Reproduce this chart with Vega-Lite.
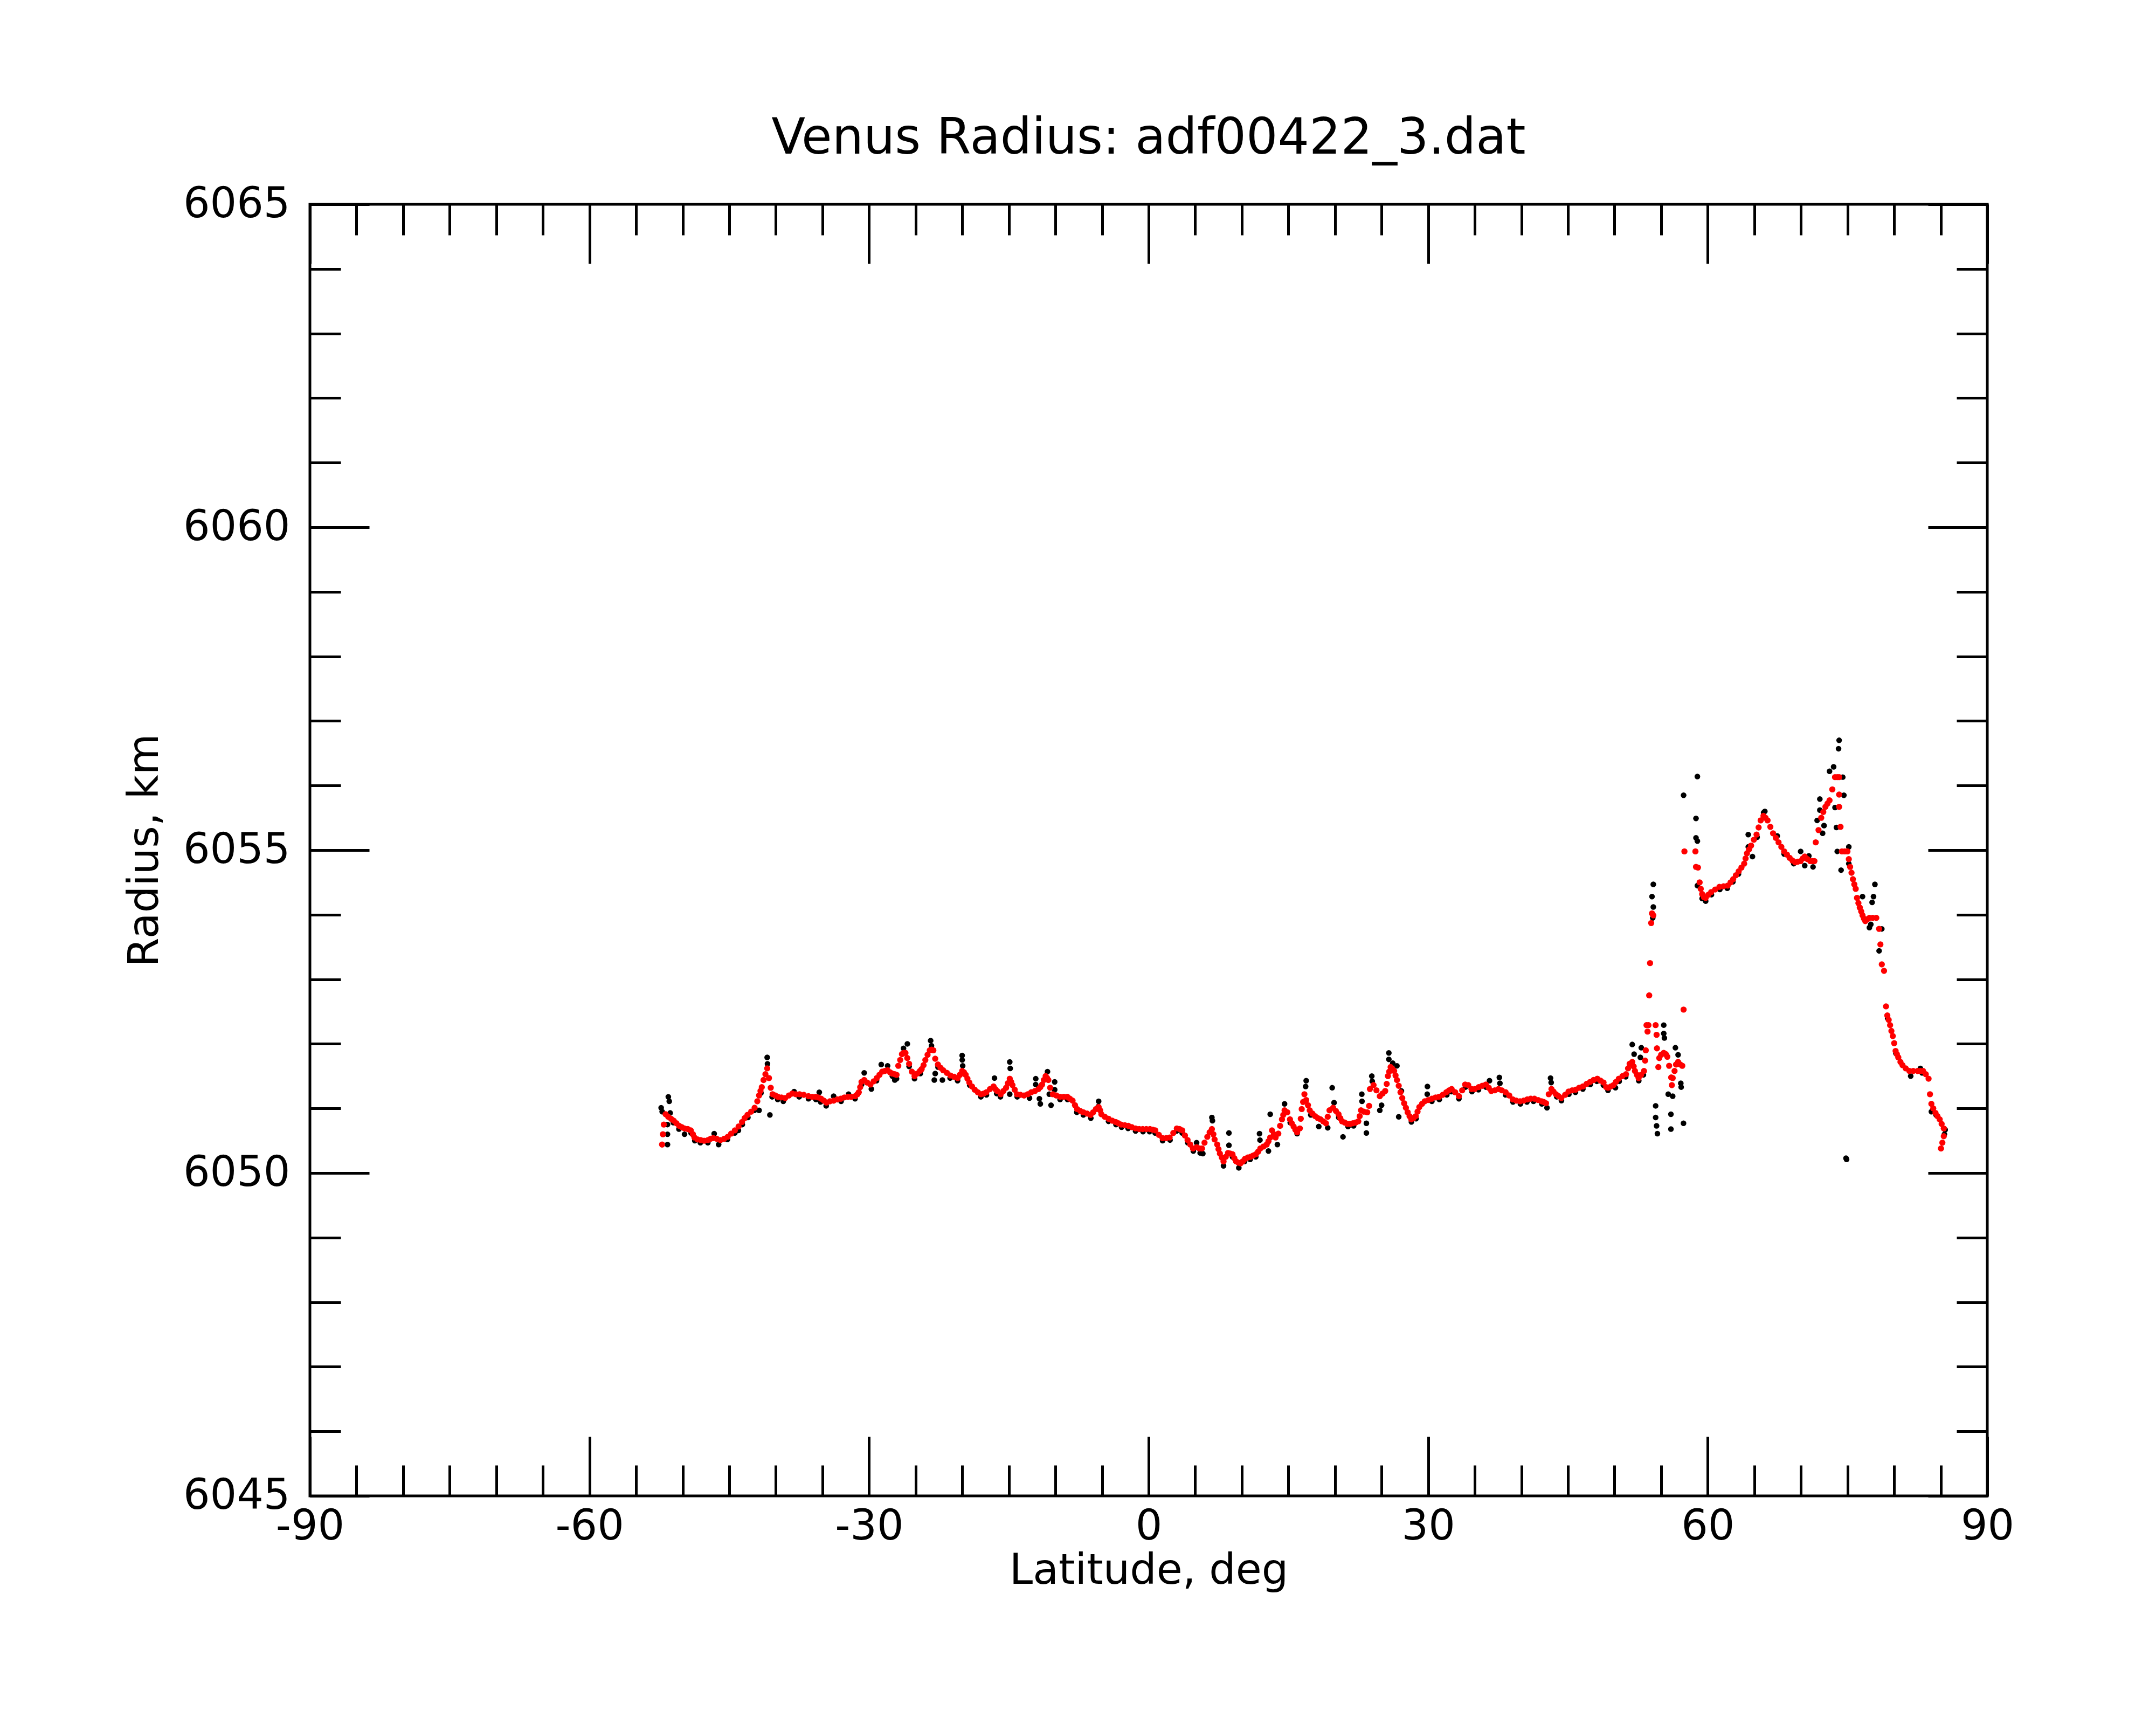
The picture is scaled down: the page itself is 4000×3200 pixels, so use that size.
{
  "$schema": "https://vega.github.io/schema/vega-lite/v6.json",
  "width": 3112,
  "height": 2396,
  "autosize": "none",
  "padding": {"left": 575, "top": 379, "right": 313, "bottom": 425},
  "background": "white",
  "title": {
    "text": "Venus Radius: adf00422_3.dat",
    "font": "DejaVu Sans",
    "fontSize": 92,
    "fontWeight": "normal",
    "color": "black",
    "anchor": "middle",
    "baseline": "alphabetic",
    "offset": 97,
    "dy": 134
  },
  "datasets": {
    "fit": [
      {"lat":-52.21,"radius":6050.44},{"lat":-52.12,"radius":6050.60},{"lat":-52.02,"radius":6050.75},{"lat":-51.83,"radius":6050.91},
      {"lat":-51.55,"radius":6050.87},{"lat":-51.25,"radius":6050.84},{"lat":-50.96,"radius":6050.81},{"lat":-50.67,"radius":6050.77},
      {"lat":-50.38,"radius":6050.73},{"lat":-50.09,"radius":6050.71},{"lat":-49.80,"radius":6050.69},{"lat":-49.45,"radius":6050.68},
      {"lat":-49.13,"radius":6050.66},{"lat":-48.90,"radius":6050.60},{"lat":-48.74,"radius":6050.55},{"lat":-48.40,"radius":6050.52},
      {"lat":-48.07,"radius":6050.51},{"lat":-47.70,"radius":6050.50},{"lat":-47.29,"radius":6050.51},{"lat":-47.00,"radius":6050.53},
      {"lat":-46.72,"radius":6050.54},{"lat":-46.35,"radius":6050.53},{"lat":-45.95,"radius":6050.51},{"lat":-45.55,"radius":6050.53},
      {"lat":-45.17,"radius":6050.56},{"lat":-44.80,"radius":6050.61},{"lat":-44.40,"radius":6050.66},{"lat":-44.00,"radius":6050.72},
      {"lat":-43.63,"radius":6050.79},{"lat":-43.35,"radius":6050.85},{"lat":-43.05,"radius":6050.90},{"lat":-42.65,"radius":6050.95},
      {"lat":-42.28,"radius":6051.01},{"lat":-41.99,"radius":6051.11},{"lat":-41.80,"radius":6051.20},{"lat":-41.65,"radius":6051.27},
      {"lat":-41.51,"radius":6051.33},{"lat":-41.32,"radius":6051.44},{"lat":-41.12,"radius":6051.53},{"lat":-40.93,"radius":6051.62},
      {"lat":-40.74,"radius":6051.47},{"lat":-40.55,"radius":6051.32},{"lat":-40.35,"radius":6051.22},{"lat":-40.05,"radius":6051.20},
      {"lat":-39.78,"radius":6051.18},{"lat":-39.40,"radius":6051.17},{"lat":-39.00,"radius":6051.16},{"lat":-38.60,"radius":6051.20},
      {"lat":-38.23,"radius":6051.23},{"lat":-37.85,"radius":6051.22},{"lat":-37.46,"radius":6051.22},{"lat":-37.00,"radius":6051.21},
      {"lat":-36.50,"radius":6051.19},{"lat":-36.10,"radius":6051.18},{"lat":-35.73,"radius":6051.18},{"lat":-35.45,"radius":6051.17},
      {"lat":-35.15,"radius":6051.15},{"lat":-34.85,"radius":6051.12},{"lat":-34.57,"radius":6051.09},{"lat":-34.20,"radius":6051.11},
      {"lat":-33.80,"radius":6051.12},{"lat":-33.40,"radius":6051.14},{"lat":-33.03,"radius":6051.15},{"lat":-32.65,"radius":6051.17},
      {"lat":-32.26,"radius":6051.18},{"lat":-31.90,"radius":6051.18},{"lat":-31.49,"radius":6051.19},{"lat":-31.25,"radius":6051.22},
      {"lat":-31.10,"radius":6051.25},{"lat":-30.95,"radius":6051.33},{"lat":-30.81,"radius":6051.41},{"lat":-30.52,"radius":6051.44},
      {"lat":-30.20,"radius":6051.40},{"lat":-29.85,"radius":6051.37},{"lat":-29.50,"radius":6051.42},{"lat":-29.17,"radius":6051.47},
      {"lat":-28.88,"radius":6051.52},{"lat":-28.59,"radius":6051.57},{"lat":-28.30,"radius":6051.58},{"lat":-28.01,"radius":6051.59},
      {"lat":-27.75,"radius":6051.56},{"lat":-27.53,"radius":6051.54},{"lat":-27.25,"radius":6051.53},{"lat":-27.05,"radius":6051.52},
      {"lat":-26.86,"radius":6051.66},{"lat":-26.66,"radius":6051.75},{"lat":-26.47,"radius":6051.84},{"lat":-26.28,"radius":6051.86},
      {"lat":-26.09,"radius":6051.86},{"lat":-25.90,"radius":6051.78},{"lat":-25.70,"radius":6051.69},{"lat":-25.41,"radius":6051.57},
      {"lat":-25.12,"radius":6051.50},{"lat":-24.83,"radius":6051.54},{"lat":-24.54,"radius":6051.58},{"lat":-24.35,"radius":6051.61},
      {"lat":-24.15,"radius":6051.67},{"lat":-23.96,"radius":6051.75},{"lat":-23.72,"radius":6051.83},{"lat":-23.48,"radius":6051.90},
      {"lat":-23.29,"radius":6051.91},{"lat":-23.10,"radius":6051.90},{"lat":-22.90,"radius":6051.77},{"lat":-22.61,"radius":6051.68},
      {"lat":-22.33,"radius":6051.63},{"lat":-22.04,"radius":6051.59},{"lat":-21.65,"radius":6051.55},{"lat":-21.26,"radius":6051.51},
      {"lat":-20.87,"radius":6051.49},{"lat":-20.49,"radius":6051.47},{"lat":-20.25,"radius":6051.52},{"lat":-20.01,"radius":6051.58},
      {"lat":-19.82,"radius":6051.56},{"lat":-19.63,"radius":6051.52},{"lat":-19.44,"radius":6051.46},{"lat":-19.24,"radius":6051.40},
      {"lat":-18.95,"radius":6051.34},{"lat":-18.66,"radius":6051.29},{"lat":-18.33,"radius":6051.25},{"lat":-17.99,"radius":6051.22},
      {"lat":-17.70,"radius":6051.23},{"lat":-17.41,"radius":6051.25},{"lat":-17.02,"radius":6051.30},{"lat":-16.64,"radius":6051.34},
      {"lat":-16.45,"radius":6051.30},{"lat":-16.25,"radius":6051.27},{"lat":-15.87,"radius":6051.22},{"lat":-15.58,"radius":6051.27},
      {"lat":-15.29,"radius":6051.32},{"lat":-15.10,"radius":6051.39},{"lat":-14.90,"radius":6051.46},{"lat":-14.75,"radius":6051.41},
      {"lat":-14.61,"radius":6051.36},{"lat":-14.37,"radius":6051.29},{"lat":-14.13,"radius":6051.22},{"lat":-13.75,"radius":6051.21},
      {"lat":-13.36,"radius":6051.20},{"lat":-12.97,"radius":6051.22},{"lat":-12.59,"radius":6051.25},{"lat":-12.20,"radius":6051.27},
      {"lat":-11.82,"radius":6051.30},{"lat":-11.62,"radius":6051.33},{"lat":-11.43,"radius":6051.37},{"lat":-11.24,"radius":6051.44},
      {"lat":-11.05,"radius":6051.50},{"lat":-10.90,"radius":6051.47},{"lat":-10.76,"radius":6051.44},{"lat":-10.56,"radius":6051.32},
      {"lat":-10.28,"radius":6051.22},{"lat":-9.90,"radius":6051.20},{"lat":-9.50,"radius":6051.18},{"lat":-9.10,"radius":6051.18},
      {"lat":-8.73,"radius":6051.18},{"lat":-8.45,"radius":6051.15},{"lat":-8.16,"radius":6051.12},{"lat":-7.90,"radius":6051.05},
      {"lat":-7.67,"radius":6050.99},{"lat":-7.33,"radius":6050.96},{"lat":-7.00,"radius":6050.94},{"lat":-6.60,"radius":6050.92},
      {"lat":-6.23,"radius":6050.90},{"lat":-5.95,"radius":6050.94},{"lat":-5.65,"radius":6050.99},{"lat":-5.36,"radius":6051.02},
      {"lat":-5.20,"radius":6050.97},{"lat":-5.07,"radius":6050.91},{"lat":-4.70,"radius":6050.87},{"lat":-4.30,"radius":6050.84},
      {"lat":-3.90,"radius":6050.81},{"lat":-3.53,"radius":6050.79},{"lat":-3.25,"radius":6050.77},{"lat":-2.95,"radius":6050.75},
      {"lat":-2.55,"radius":6050.74},{"lat":-2.18,"radius":6050.73},{"lat":-1.80,"radius":6050.71},{"lat":-1.40,"radius":6050.69},
      {"lat":-1.00,"radius":6050.68},{"lat":-0.63,"radius":6050.68},{"lat":-0.25,"radius":6050.68},{"lat":0.14,"radius":6050.68},
      {"lat":0.45,"radius":6050.67},{"lat":0.72,"radius":6050.66},{"lat":1.10,"radius":6050.59},{"lat":1.49,"radius":6050.54},
      {"lat":1.88,"radius":6050.54},{"lat":2.26,"radius":6050.55},{"lat":2.65,"radius":6050.62},{"lat":3.03,"radius":6050.69},
      {"lat":3.32,"radius":6050.68},{"lat":3.61,"radius":6050.66},{"lat":3.90,"radius":6050.58},{"lat":4.18,"radius":6050.51},
      {"lat":4.47,"radius":6050.44},{"lat":4.76,"radius":6050.38},{"lat":5.15,"radius":6050.40},{"lat":5.45,"radius":6050.38},
      {"lat":5.73,"radius":6050.38},{"lat":6.00,"radius":6050.47},{"lat":6.30,"radius":6050.56},{"lat":6.55,"radius":6050.63},
      {"lat":6.79,"radius":6050.68},{"lat":6.95,"radius":6050.60},{"lat":7.08,"radius":6050.52},{"lat":7.36,"radius":6050.44},
      {"lat":7.50,"radius":6050.37},{"lat":7.65,"radius":6050.30},{"lat":7.85,"radius":6050.24},{"lat":8.04,"radius":6050.18},
      {"lat":8.28,"radius":6050.25},{"lat":8.52,"radius":6050.31},{"lat":8.76,"radius":6050.30},{"lat":9.00,"radius":6050.29},
      {"lat":9.20,"radius":6050.23},{"lat":9.39,"radius":6050.18},{"lat":9.63,"radius":6050.16},{"lat":9.87,"radius":6050.15},
      {"lat":10.10,"radius":6050.18},{"lat":10.35,"radius":6050.22},{"lat":10.65,"radius":6050.24},{"lat":10.93,"radius":6050.25},
      {"lat":11.22,"radius":6050.27},{"lat":11.51,"radius":6050.29},{"lat":11.75,"radius":6050.33},{"lat":11.99,"radius":6050.38},
      {"lat":12.33,"radius":6050.41},{"lat":12.67,"radius":6050.44},{"lat":12.86,"radius":6050.49},{"lat":13.05,"radius":6050.55},
      {"lat":13.24,"radius":6050.66},{"lat":13.45,"radius":6050.60},{"lat":13.63,"radius":6050.55},{"lat":13.92,"radius":6050.61},
      {"lat":14.11,"radius":6050.73},{"lat":14.31,"radius":6050.83},{"lat":14.45,"radius":6050.90},{"lat":14.59,"radius":6050.97},
      {"lat":14.88,"radius":6050.94},{"lat":15.17,"radius":6050.83},{"lat":15.36,"radius":6050.77},{"lat":15.56,"radius":6050.72},
      {"lat":15.75,"radius":6050.67},{"lat":15.94,"radius":6050.63},{"lat":16.23,"radius":6050.69},{"lat":16.33,"radius":6050.84},
      {"lat":16.43,"radius":6050.99},{"lat":16.58,"radius":6051.10},{"lat":16.72,"radius":6051.22},{"lat":16.91,"radius":6051.13},
      {"lat":17.10,"radius":6051.05},{"lat":17.29,"radius":6050.97},{"lat":17.58,"radius":6050.92},{"lat":17.87,"radius":6050.88},
      {"lat":18.16,"radius":6050.85},{"lat":18.45,"radius":6050.83},{"lat":18.74,"radius":6050.80},{"lat":19.03,"radius":6050.77},
      {"lat":19.22,"radius":6050.87},{"lat":19.41,"radius":6050.97},{"lat":19.80,"radius":6051.01},{"lat":20.10,"radius":6050.96},
      {"lat":20.38,"radius":6050.91},{"lat":20.57,"radius":6050.85},{"lat":20.76,"radius":6050.80},{"lat":21.05,"radius":6050.78},
      {"lat":21.34,"radius":6050.76},{"lat":21.63,"radius":6050.76},{"lat":21.92,"radius":6050.77},{"lat":22.21,"radius":6050.78},
      {"lat":22.50,"radius":6050.80},{"lat":22.65,"radius":6050.88},{"lat":22.79,"radius":6050.97},{"lat":23.10,"radius":6050.95},
      {"lat":23.46,"radius":6050.94},{"lat":23.66,"radius":6051.04},{"lat":23.75,"radius":6051.30},{"lat":24.14,"radius":6051.36},
      {"lat":24.45,"radius":6051.28},{"lat":24.81,"radius":6051.19},{"lat":25.10,"radius":6051.23},{"lat":25.39,"radius":6051.27},
      {"lat":25.55,"radius":6051.38},{"lat":25.68,"radius":6051.50},{"lat":25.82,"radius":6051.57},{"lat":25.97,"radius":6051.64},
      {"lat":26.16,"radius":6051.61},{"lat":26.35,"radius":6051.58},{"lat":26.50,"radius":6051.51},{"lat":26.65,"radius":6051.44},
      {"lat":26.84,"radius":6051.35},{"lat":27.03,"radius":6051.25},{"lat":27.22,"radius":6051.16},{"lat":27.42,"radius":6051.08},
      {"lat":27.61,"radius":6051.01},{"lat":27.80,"radius":6050.94},{"lat":28.00,"radius":6050.88},{"lat":28.19,"radius":6050.83},
      {"lat":28.43,"radius":6050.85},{"lat":28.67,"radius":6050.88},{"lat":28.86,"radius":6050.95},{"lat":29.05,"radius":6051.02},
      {"lat":29.34,"radius":6051.07},{"lat":29.63,"radius":6051.11},{"lat":30.00,"radius":6051.13},{"lat":30.40,"radius":6051.15},
      {"lat":30.80,"radius":6051.17},{"lat":31.17,"radius":6051.18},{"lat":31.56,"radius":6051.21},{"lat":31.95,"radius":6051.25},
      {"lat":32.25,"radius":6051.28},{"lat":32.52,"radius":6051.30},{"lat":32.90,"radius":6051.25},{"lat":33.30,"radius":6051.19},
      {"lat":33.65,"radius":6051.28},{"lat":33.97,"radius":6051.37},{"lat":34.30,"radius":6051.36},{"lat":34.65,"radius":6051.30},
      {"lat":35.00,"radius":6051.30},{"lat":35.42,"radius":6051.33},{"lat":35.80,"radius":6051.35},{"lat":36.19,"radius":6051.37},
      {"lat":36.50,"radius":6051.32},{"lat":36.77,"radius":6051.27},{"lat":37.15,"radius":6051.28},{"lat":37.54,"radius":6051.30},
      {"lat":37.90,"radius":6051.28},{"lat":38.31,"radius":6051.25},{"lat":38.70,"radius":6051.20},{"lat":39.08,"radius":6051.14},
      {"lat":39.45,"radius":6051.12},{"lat":39.86,"radius":6051.11},{"lat":40.25,"radius":6051.12},{"lat":40.63,"radius":6051.14},
      {"lat":41.00,"radius":6051.15},{"lat":41.40,"radius":6051.15},{"lat":41.80,"radius":6051.13},{"lat":42.17,"radius":6051.11},
      {"lat":42.40,"radius":6051.10},{"lat":42.65,"radius":6051.08},{"lat":42.94,"radius":6051.22},{"lat":43.23,"radius":6051.30},
      {"lat":43.45,"radius":6051.26},{"lat":43.71,"radius":6051.22},{"lat":44.00,"radius":6051.19},{"lat":44.29,"radius":6051.16},
      {"lat":44.70,"radius":6051.21},{"lat":45.06,"radius":6051.26},{"lat":45.45,"radius":6051.28},{"lat":45.83,"radius":6051.29},
      {"lat":46.20,"radius":6051.32},{"lat":46.60,"radius":6051.34},{"lat":47.00,"radius":6051.38},{"lat":47.38,"radius":6051.41},
      {"lat":47.75,"radius":6051.44},{"lat":48.15,"radius":6051.46},{"lat":48.50,"radius":6051.43},{"lat":48.82,"radius":6051.40},
      {"lat":49.10,"radius":6051.33},{"lat":49.30,"radius":6051.32},{"lat":49.60,"radius":6051.34},{"lat":49.88,"radius":6051.36},
      {"lat":50.15,"radius":6051.41},{"lat":50.46,"radius":6051.46},{"lat":50.85,"radius":6051.50},{"lat":51.23,"radius":6051.53},
      {"lat":51.45,"radius":6051.62},{"lat":51.62,"radius":6051.69},{"lat":51.80,"radius":6051.70},{"lat":51.90,"radius":6051.72},
      {"lat":52.05,"radius":6051.65},{"lat":52.19,"radius":6051.58},{"lat":52.40,"radius":6051.52},{"lat":52.58,"radius":6051.47},
      {"lat":52.85,"radius":6051.52},{"lat":53.16,"radius":6051.58},{"lat":53.28,"radius":6051.74},{"lat":53.35,"radius":6051.90},
      {"lat":53.43,"radius":6052.29},{"lat":53.54,"radius":6052.19},{"lat":53.64,"radius":6052.29},{"lat":53.72,"radius":6052.75},
      {"lat":53.81,"radius":6053.25},{"lat":53.93,"radius":6053.87},{"lat":54.02,"radius":6054.02},{"lat":54.16,"radius":6053.99},
      {"lat":54.41,"radius":6052.29},{"lat":54.51,"radius":6052.14},{"lat":54.55,"radius":6051.93},{"lat":54.70,"radius":6051.64},
      {"lat":54.80,"radius":6051.78},{"lat":55.00,"radius":6051.83},{"lat":55.28,"radius":6051.86},{"lat":55.50,"radius":6051.84},
      {"lat":55.66,"radius":6051.80},{"lat":55.86,"radius":6051.66},{"lat":56.08,"radius":6051.48},{"lat":56.15,"radius":6051.36},
      {"lat":56.24,"radius":6051.47},{"lat":56.44,"radius":6051.58},{"lat":56.60,"radius":6051.68},{"lat":56.82,"radius":6051.72},
      {"lat":57.05,"radius":6051.68},{"lat":57.27,"radius":6051.66},{"lat":57.41,"radius":6052.53},{"lat":57.50,"radius":6054.98},
      {"lat":58.68,"radius":6054.98},{"lat":58.74,"radius":6054.74},{"lat":58.95,"radius":6054.73},{"lat":59.13,"radius":6054.50},
      {"lat":59.25,"radius":6054.40},{"lat":59.40,"radius":6054.32},{"lat":59.60,"radius":6054.27},{"lat":59.78,"radius":6054.26},
      {"lat":60.07,"radius":6054.31},{"lat":60.37,"radius":6054.35},{"lat":60.80,"radius":6054.39},{"lat":61.25,"radius":6054.43},
      {"lat":61.70,"radius":6054.44},{"lat":62.14,"radius":6054.45},{"lat":62.45,"radius":6054.50},{"lat":62.73,"radius":6054.55},
      {"lat":63.02,"radius":6054.61},{"lat":63.32,"radius":6054.67},{"lat":63.62,"radius":6054.73},{"lat":63.91,"radius":6054.79},
      {"lat":64.06,"radius":6054.87},{"lat":64.21,"radius":6054.95},{"lat":64.43,"radius":6055.01},{"lat":64.65,"radius":6055.07},
      {"lat":64.95,"radius":6055.16},{"lat":65.24,"radius":6055.24},{"lat":65.46,"radius":6055.35},{"lat":65.68,"radius":6055.46},
      {"lat":65.98,"radius":6055.53},{"lat":66.20,"radius":6055.50},{"lat":66.42,"radius":6055.46},{"lat":66.72,"radius":6055.36},
      {"lat":67.01,"radius":6055.26},{"lat":67.30,"radius":6055.19},{"lat":67.60,"radius":6055.12},{"lat":67.90,"radius":6055.05},
      {"lat":68.20,"radius":6054.98},{"lat":68.50,"radius":6054.93},{"lat":68.79,"radius":6054.88},{"lat":69.08,"radius":6054.84},
      {"lat":69.38,"radius":6054.81},{"lat":69.67,"radius":6054.82},{"lat":69.97,"radius":6054.83},{"lat":70.20,"radius":6054.87},
      {"lat":70.41,"radius":6054.90},{"lat":70.70,"radius":6054.86},{"lat":71.00,"radius":6054.83},{"lat":71.25,"radius":6054.83},
      {"lat":71.45,"radius":6054.83},{"lat":71.59,"radius":6055.12},{"lat":71.89,"radius":6055.31},{"lat":72.18,"radius":6055.50},
      {"lat":72.40,"radius":6055.59},{"lat":72.63,"radius":6055.67},{"lat":72.85,"radius":6055.72},{"lat":73.07,"radius":6055.77},
      {"lat":73.37,"radius":6055.94},{"lat":73.66,"radius":6056.13},{"lat":73.90,"radius":6056.13},{"lat":74.10,"radius":6056.13},
      {"lat":74.10,"radius":6055.86},{"lat":74.10,"radius":6055.67},{"lat":74.25,"radius":6055.36},{"lat":74.40,"radius":6054.98},
      {"lat":74.70,"radius":6054.98},{"lat":74.99,"radius":6054.98},{"lat":75.14,"radius":6054.86},{"lat":75.28,"radius":6054.74},
      {"lat":75.43,"radius":6054.65},{"lat":75.58,"radius":6054.55},{"lat":75.73,"radius":6054.47},{"lat":75.88,"radius":6054.40},
      {"lat":76.02,"radius":6054.26},{"lat":76.17,"radius":6054.18},{"lat":76.32,"radius":6054.11},{"lat":76.47,"radius":6054.05},
      {"lat":76.61,"radius":6053.99},{"lat":76.76,"radius":6053.94},{"lat":76.91,"radius":6053.90},{"lat":77.13,"radius":6053.93},
      {"lat":77.35,"radius":6053.95},{"lat":77.70,"radius":6053.95},{"lat":78.09,"radius":6053.95},{"lat":78.39,"radius":6053.78},
      {"lat":78.53,"radius":6053.54},{"lat":78.68,"radius":6053.23},{"lat":78.92,"radius":6053.13},{"lat":79.13,"radius":6052.58},
      {"lat":79.27,"radius":6052.44},{"lat":79.42,"radius":6052.37},{"lat":79.57,"radius":6052.29},{"lat":79.71,"radius":6052.20},
      {"lat":79.86,"radius":6052.12},{"lat":80.01,"radius":6052.01},{"lat":80.16,"radius":6051.89},{"lat":80.30,"radius":6051.84},
      {"lat":80.45,"radius":6051.79},{"lat":80.68,"radius":6051.72},{"lat":80.90,"radius":6051.67},{"lat":81.25,"radius":6051.62},
      {"lat":81.64,"radius":6051.58},{"lat":82.05,"radius":6051.58},{"lat":82.52,"radius":6051.58},{"lat":82.80,"radius":6051.58},
      {"lat":83.11,"radius":6051.58},{"lat":83.40,"radius":6051.53},{"lat":83.70,"radius":6051.46},{"lat":83.85,"radius":6051.22},
      {"lat":84.00,"radius":6051.07},{"lat":84.20,"radius":6051.00},{"lat":84.44,"radius":6050.93},{"lat":84.65,"radius":6050.88},
      {"lat":84.89,"radius":6050.83},{"lat":85.10,"radius":6050.76},{"lat":85.33,"radius":6050.69},{"lat":85.33,"radius":6050.57},
      {"lat":85.18,"radius":6050.47},{"lat":85.03,"radius":6050.38}
    ],
    "raw": [
      {"lat":-52.31,"radius":6051.01},{"lat":-52.2,"radius":6050.95},{"lat":-51.54,"radius":6051.18},{"lat":-51.44,"radius":6051.11},
      {"lat":-51.34,"radius":6050.93},{"lat":-51.63,"radius":6050.75},{"lat":-51.63,"radius":6050.60},{"lat":-51.63,"radius":6050.44},
      {"lat":-51.0,"radius":6050.78},{"lat":-50.4,"radius":6050.68},{"lat":-49.8,"radius":6050.60},{"lat":-49.1,"radius":6050.62},
      {"lat":-48.7,"radius":6050.50},{"lat":-48.1,"radius":6050.47},{"lat":-47.3,"radius":6050.47},{"lat":-46.62,"radius":6050.61},
      {"lat":-46.14,"radius":6050.44},{"lat":-45.2,"radius":6050.52},{"lat":-44.02,"radius":6050.66},{"lat":-44.4,"radius":6050.62},
      {"lat":-43.6,"radius":6050.75},{"lat":-43.0,"radius":6050.86},{"lat":-42.3,"radius":6050.97},{"lat":-41.80,"radius":6050.97},
      {"lat":-41.6,"radius":6051.24},{"lat":-40.64,"radius":6050.90},{"lat":-40.93,"radius":6051.79},{"lat":-40.9,"radius":6051.69},
      {"lat":-40.4,"radius":6051.18},{"lat":-39.8,"radius":6051.14},{"lat":-39.2,"radius":6051.11},{"lat":-38.04,"radius":6051.26},
      {"lat":-37.5,"radius":6051.18},{"lat":-36.5,"radius":6051.15},{"lat":-35.34,"radius":6051.25},{"lat":-35.7,"radius":6051.14},
      {"lat":-35.2,"radius":6051.10},{"lat":-34.6,"radius":6051.04},{"lat":-33.8,"radius":6051.19},{"lat":-33.0,"radius":6051.11},
      {"lat":-32.2,"radius":6051.22},{"lat":-31.5,"radius":6051.15},{"lat":-30.52,"radius":6051.55},{"lat":-30.8,"radius":6051.37},
      {"lat":-29.75,"radius":6051.30},{"lat":-29.2,"radius":6051.43},{"lat":-28.69,"radius":6051.68},{"lat":-28.01,"radius":6051.66},
      {"lat":-27.5,"radius":6051.50},{"lat":-27.24,"radius":6051.44},{"lat":-27.05,"radius":6051.46},{"lat":-26.3,"radius":6051.93},
      {"lat":-25.89,"radius":6052.00},{"lat":-25.7,"radius":6051.65},{"lat":-25.12,"radius":6051.46},{"lat":-24.5,"radius":6051.54},
      {"lat":-23.39,"radius":6052.05},{"lat":-23.3,"radius":6051.97},{"lat":-22.90,"radius":6051.54},{"lat":-23.00,"radius":6051.44},
      {"lat":-22.13,"radius":6051.44},{"lat":-22.6,"radius":6051.64},{"lat":-21.3,"radius":6051.47},{"lat":-20.5,"radius":6051.43},
      {"lat":-20.01,"radius":6051.82},{"lat":-20.0,"radius":6051.75},{"lat":-19.95,"radius":6051.66},{"lat":-19.2,"radius":6051.36},
      {"lat":-18.0,"radius":6051.18},{"lat":-17.4,"radius":6051.21},{"lat":-16.54,"radius":6051.47},{"lat":-16.3,"radius":6051.23},
      {"lat":-15.9,"radius":6051.18},{"lat":-14.90,"radius":6051.72},{"lat":-14.85,"radius":6051.62},{"lat":-14.90,"radius":6051.22},
      {"lat":-14.1,"radius":6051.18},{"lat":-12.78,"radius":6051.16},{"lat":-12.11,"radius":6051.46},{"lat":-12.12,"radius":6051.37},
      {"lat":-11.72,"radius":6051.15},{"lat":-11.62,"radius":6051.07},{"lat":-10.85,"radius":6051.57},{"lat":-10.08,"radius":6051.41},
      {"lat":-10.08,"radius":6051.29},{"lat":-10.66,"radius":6051.22},{"lat":-10.47,"radius":6051.05},{"lat":-9.5,"radius":6051.14},
      {"lat":-8.7,"radius":6051.14},{"lat":-7.7,"radius":6050.94},{"lat":-7.0,"radius":6050.90},{"lat":-6.2,"radius":6050.85},
      {"lat":-5.36,"radius":6051.11},{"lat":-5.4,"radius":6051.03},{"lat":-4.3,"radius":6050.80},{"lat":-3.5,"radius":6050.75},
      {"lat":-2.9,"radius":6050.71},{"lat":-2.2,"radius":6050.69},{"lat":-1.4,"radius":6050.65},{"lat":-0.6,"radius":6050.64},
      {"lat":0.1,"radius":6050.64},{"lat":0.7,"radius":6050.62},{"lat":1.5,"radius":6050.50},{"lat":2.3,"radius":6050.51},
      {"lat":3.0,"radius":6050.65},{"lat":3.6,"radius":6050.62},{"lat":4.2,"radius":6050.47},{"lat":4.8,"radius":6050.34},
      {"lat":5.15,"radius":6050.47},{"lat":5.53,"radius":6050.31},{"lat":5.82,"radius":6050.30},{"lat":6.79,"radius":6050.86},
      {"lat":6.85,"radius":6050.81},{"lat":8.04,"radius":6050.11},{"lat":8.62,"radius":6050.62},{"lat":8.62,"radius":6050.43},
      {"lat":9.68,"radius":6050.08},{"lat":9.0,"radius":6050.25},{"lat":10.3,"radius":6050.18},{"lat":10.9,"radius":6050.21},
      {"lat":11.5,"radius":6050.25},{"lat":11.90,"radius":6050.61},{"lat":11.95,"radius":6050.51},{"lat":12.86,"radius":6050.34},
      {"lat":13.05,"radius":6050.91},{"lat":13.82,"radius":6050.44},{"lat":14.59,"radius":6051.07},{"lat":15.2,"radius":6050.78},
      {"lat":15.94,"radius":6050.61},{"lat":16.91,"radius":6051.43},{"lat":16.85,"radius":6051.34},{"lat":17.4,"radius":6050.90},
      {"lat":18.26,"radius":6050.72},{"lat":19.22,"radius":6050.70},{"lat":19.70,"radius":6051.32},{"lat":19.90,"radius":6051.09},
      {"lat":20.4,"radius":6050.86},{"lat":20.86,"radius":6050.56},{"lat":21.4,"radius":6050.72},{"lat":22.0,"radius":6050.73},
      {"lat":22.88,"radius":6051.22},{"lat":22.9,"radius":6051.11},{"lat":23.37,"radius":6050.62},{"lat":23.37,"radius":6050.77},
      {"lat":23.95,"radius":6051.50},{"lat":24.0,"radius":6051.42},{"lat":24.81,"radius":6050.97},{"lat":25.00,"radius":6051.05},
      {"lat":25.78,"radius":6051.86},{"lat":25.78,"radius":6051.76},{"lat":26.65,"radius":6051.66},{"lat":26.2,"radius":6051.70},
      {"lat":26.84,"radius":6050.87},{"lat":27.13,"radius":6051.27},{"lat":28.2,"radius":6050.79},{"lat":28.7,"radius":6050.84},
      {"lat":29.92,"radius":6051.34},{"lat":29.9,"radius":6051.22},{"lat":30.4,"radius":6051.11},{"lat":31.2,"radius":6051.14},
      {"lat":32.0,"radius":6051.21},{"lat":32.5,"radius":6051.26},{"lat":33.3,"radius":6051.15},{"lat":34.0,"radius":6051.33},
      {"lat":34.7,"radius":6051.26},{"lat":35.4,"radius":6051.29},{"lat":36.58,"radius":6051.43},{"lat":36.2,"radius":6051.33},
      {"lat":37.64,"radius":6051.48},{"lat":37.7,"radius":6051.39},{"lat":38.3,"radius":6051.21},{"lat":39.1,"radius":6051.10},
      {"lat":39.9,"radius":6051.07},{"lat":40.6,"radius":6051.10},{"lat":41.3,"radius":6051.11},{"lat":42.2,"radius":6051.07},
      {"lat":42.75,"radius":6051.01},{"lat":43.13,"radius":6051.47},{"lat":43.2,"radius":6051.40},{"lat":43.8,"radius":6051.18},
      {"lat":44.3,"radius":6051.12},{"lat":45.1,"radius":6051.22},{"lat":45.8,"radius":6051.25},{"lat":46.6,"radius":6051.30},
      {"lat":47.4,"radius":6051.37},{"lat":48.1,"radius":6051.42},{"lat":48.8,"radius":6051.36},{"lat":49.3,"radius":6051.28},
      {"lat":50.1,"radius":6051.32},{"lat":50.5,"radius":6051.42},{"lat":51.2,"radius":6051.49},{"lat":51.90,"radius":6051.99},
      {"lat":52.10,"radius":6051.84},{"lat":52.87,"radius":6051.94},{"lat":52.77,"radius":6051.79},{"lat":52.6,"radius":6051.43},
      {"lat":53.1,"radius":6051.52},{"lat":55.28,"radius":6052.29},{"lat":55.28,"radius":6052.16},{"lat":55.35,"radius":6052.09},
      {"lat":56.53,"radius":6051.94},{"lat":56.82,"radius":6051.83},{"lat":57.11,"radius":6051.39},{"lat":57.15,"radius":6051.33},
      {"lat":55.76,"radius":6051.22},{"lat":56.24,"radius":6051.19},{"lat":54.41,"radius":6051.04},{"lat":54.41,"radius":6050.86},
      {"lat":54.51,"radius":6050.73},{"lat":54.60,"radius":6050.61},{"lat":56.05,"radius":6050.91},{"lat":56.05,"radius":6050.68},
      {"lat":57.40,"radius":6050.77},{"lat":54.16,"radius":6054.47},{"lat":54.02,"radius":6054.28},{"lat":54.16,"radius":6054.12},
      {"lat":54.1,"radius":6053.95},{"lat":57.41,"radius":6055.85},{"lat":58.89,"radius":6056.14},{"lat":58.74,"radius":6055.49},
      {"lat":58.74,"radius":6055.19},{"lat":58.89,"radius":6055.14},{"lat":58.89,"radius":6054.45},{"lat":59.4,"radius":6054.25},
      {"lat":59.78,"radius":6054.21},{"lat":60.4,"radius":6054.31},{"lat":61.3,"radius":6054.39},{"lat":62.1,"radius":6054.41},
      {"lat":62.7,"radius":6054.51},{"lat":63.3,"radius":6054.63},{"lat":64.35,"radius":6055.24},{"lat":64.35,"radius":6055.05},
      {"lat":64.80,"radius":6054.90},{"lat":65.3,"radius":6055.20},{"lat":66.13,"radius":6055.60},{"lat":66.0,"radius":6055.58},
      {"lat":67.46,"radius":6055.22},{"lat":68.2,"radius":6054.94},{"lat":69.23,"radius":6054.79},{"lat":69.97,"radius":6054.98},
      {"lat":70.41,"radius":6054.76},{"lat":70.85,"radius":6054.91},{"lat":71.30,"radius":6054.74},{"lat":72.03,"radius":6055.79},
      {"lat":72.03,"radius":6055.62},{"lat":71.74,"radius":6055.46},{"lat":72.48,"radius":6055.38},{"lat":72.33,"radius":6055.26},
      {"lat":73.07,"radius":6056.22},{"lat":73.51,"radius":6056.29},{"lat":74.10,"radius":6056.70},{"lat":74.04,"radius":6056.57},
      {"lat":74.49,"radius":6056.13},{"lat":74.61,"radius":6055.85},{"lat":73.66,"radius":6055.66},{"lat":73.81,"radius":6055.35},
      {"lat":73.90,"radius":6054.98},{"lat":74.31,"radius":6054.69},{"lat":75.14,"radius":6055.05},{"lat":75.14,"radius":6054.79},
      {"lat":74.84,"radius":6050.23},{"lat":74.90,"radius":6050.21},{"lat":76.61,"radius":6054.28},{"lat":77.94,"radius":6054.47},
      {"lat":77.79,"radius":6054.28},{"lat":77.64,"radius":6054.19},{"lat":77.35,"radius":6053.80},{"lat":77.5,"radius":6053.85},
      {"lat":78.68,"radius":6053.78},{"lat":78.39,"radius":6053.44},{"lat":79.3,"radius":6052.40},{"lat":80.2,"radius":6051.85},
      {"lat":81.78,"radius":6051.50},{"lat":82.82,"radius":6051.62},{"lat":83.0,"radius":6051.55},{"lat":84.0,"radius":6050.95},
      {"lat":84.5,"radius":6050.90},{"lat":85.48,"radius":6050.67},{"lat":85.4,"radius":6050.60}
    ]
  },
  "layer": [
    {
      "data": {"name": "raw"},
      "mark": {"type": "circle", "color": "black", "size": 110, "opacity": 1},
      "encoding": {
        "x": {
          "field": "lat", "type": "quantitative",
          "scale": {"domain": [-90, 90], "nice": false, "zero": false},
          "axis": {"orient": "bottom", "values": [-90,-85,-80,-75,-70,-65,-60,-55,-50,-45,-40,-35,-30,-25,-20,-15,-10,-5,0,5,10,15,20,25,30,35,40,45,50,55,60,65,70,75,80,85,90], "tickSize": -57, "labels": false, "title": null}
        },
        "y": {
          "field": "radius", "type": "quantitative",
          "scale": {"domain": [6045, 6065], "nice": false, "zero": false},
          "axis": {"orient": "left", "values": [6045,6046,6047,6048,6049,6050,6051,6052,6053,6054,6055,6056,6057,6058,6059,6060,6061,6062,6063,6064,6065], "tickSize": -57, "labels": false, "title": null}
        }
      }
    },
    {
      "data": {"name": "fit"},
      "mark": {"type": "circle", "color": "red", "size": 130, "opacity": 1},
      "encoding": {
        "x": {
          "field": "lat", "type": "quantitative",
          "scale": {"domain": [-90, 90], "nice": false, "zero": false},
          "axis": {
            "orient": "bottom", "values": [-90,-60,-30,0,30,60,90], "tickSize": -110,
            "labelPadding": 190, "labelBaseline": "alphabetic", "labelFlush": false, "labelOverlap": false,
            "labelLimit": 0, "labelExpr": "toString(datum.value)",
            "title": "Latitude, deg", "titleX": 1556, "titleY": 162, "titleBaseline": "alphabetic", "titleAlign": "center"
          }
        },
        "y": {
          "field": "radius", "type": "quantitative",
          "scale": {"domain": [6045, 6065], "nice": false, "zero": false},
          "axis": {
            "orient": "left", "values": [6045,6050,6055,6060,6065], "tickSize": -110,
            "labelPadding": 147, "labelAlign": "right", "labelBaseline": "middle", "labelFlush": false, "labelOverlap": false,
            "labelLimit": 0, "labelExpr": "toString(datum.value)",
            "title": "Radius, km", "titleX": -283, "titleY": 1198, "titleAngle": 270, "titleBaseline": "alphabetic", "titleAlign": "center"
          }
        }
      }
    },
    {
      "data": {"name": "fit"},
      "transform": [{"filter": "false"}],
      "mark": {"type": "circle", "opacity": 0},
      "encoding": {
        "x": {
          "field": "lat", "type": "quantitative",
          "scale": {"domain": [-90, 90], "nice": false, "zero": false},
          "axis": {"orient": "top", "values": [-90,-85,-80,-75,-70,-65,-60,-55,-50,-45,-40,-35,-30,-25,-20,-15,-10,-5,0,5,10,15,20,25,30,35,40,45,50,55,60,65,70,75,80,85,90], "tickSize": -57, "labels": false, "title": null}
        },
        "y": {
          "field": "radius", "type": "quantitative",
          "scale": {"domain": [6045, 6065], "nice": false, "zero": false},
          "axis": {"orient": "right", "values": [6045,6046,6047,6048,6049,6050,6051,6052,6053,6054,6055,6056,6057,6058,6059,6060,6061,6062,6063,6064,6065], "tickSize": -57, "labels": false, "title": null}
        }
      }
    },
    {
      "data": {"name": "fit"},
      "transform": [{"filter": "false"}],
      "mark": {"type": "circle", "opacity": 0},
      "encoding": {
        "x": {
          "field": "lat", "type": "quantitative",
          "scale": {"domain": [-90, 90], "nice": false, "zero": false},
          "axis": {"orient": "top", "values": [-90,-60,-30,0,30,60,90], "tickSize": -110, "labels": false, "title": null}
        },
        "y": {
          "field": "radius", "type": "quantitative",
          "scale": {"domain": [6045, 6065], "nice": false, "zero": false},
          "axis": {"orient": "right", "values": [6045,6050,6055,6060,6065], "tickSize": -110, "labels": false, "title": null}
        }
      }
    }
  ],
  "resolve": {"axis": {"x": "independent", "y": "independent"}},
  "config": {
    "font": "DejaVu Sans",
    "view": {"stroke": "black", "strokeWidth": 5},
    "axis": {
      "domain": false,
      "grid": false,
      "ticks": true,
      "tickColor": "black",
      "tickWidth": 5,
      "tickOpacity": 1,
      "labelColor": "black",
      "labelFont": "DejaVu Sans",
      "labelFontSize": 78,
      "titleColor": "black",
      "titleFont": "DejaVu Sans",
      "titleFontSize": 78,
      "titleFontWeight": "normal"
    }
  }
}
